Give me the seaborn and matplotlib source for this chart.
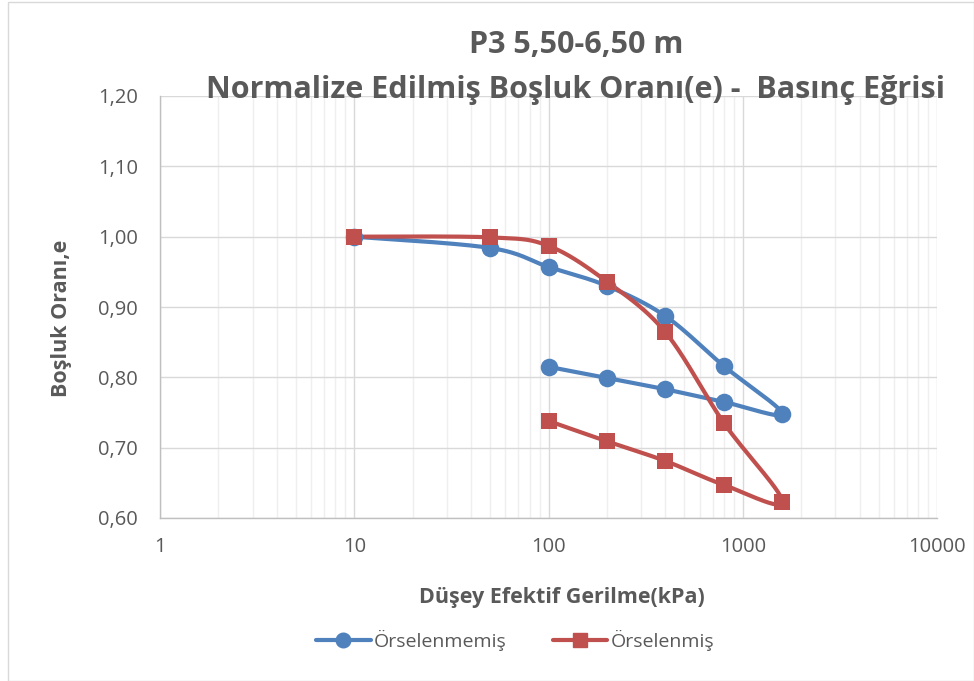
import numpy as np
import pandas as pd
import matplotlib
matplotlib.use("Agg")
import matplotlib.pyplot as plt
import seaborn as sns
from matplotlib.lines import Line2D
from matplotlib.patches import Rectangle
from matplotlib.ticker import FixedLocator, LogLocator, NullFormatter, FuncFormatter

# ---- data ----
stress = [10, 50, 100, 200, 400, 800, 1600, 800, 400, 200, 100]
e_undisturbed = [1.000, 0.984, 0.957, 0.930, 0.887, 0.816, 0.748, 0.765, 0.783, 0.799, 0.815]
e_disturbed = [1.000, 0.999, 0.987, 0.936, 0.864, 0.735, 0.623, 0.647, 0.681, 0.709, 0.738]
series_names = ["Örselenmemiş", "Örselenmiş"]
y_ticks = [0.60, 0.70, 0.80, 0.90, 1.00, 1.10, 1.20]
x_ticks = [1, 10, 100, 1000, 10000]

title_line1 = "P3 5,50-6,50 m"
title_line2 = "Normalize Edilmiş Boşluk Oranı(e) -  Basınç Eğrisi"
xlabel_text = "Düşey Efektif Gerilme(kPa)"
ylabel_text = "Boşluk Oranı,e"

BLUE = "#4F81BD"
RED = "#C0504D"
GREY_TXT = "#595959"

sns.set_theme(style="white")
plt.rcParams["font.family"] = ["Open Sans", "DejaVu Sans"]

fig = plt.figure(figsize=(9.74, 6.81), dpi=100)
ax = fig.add_axes([160/974, 1-518/681, (937-160)/974, (518-96)/681])
ax.set_xscale("log")
ax.set_xlim(1, 10000)
ax.set_ylim(0.60, 1.20)

# grid
ax.xaxis.set_major_locator(FixedLocator(x_ticks))
ax.xaxis.set_minor_locator(LogLocator(base=10, subs=np.arange(2, 10)))
ax.xaxis.set_minor_formatter(NullFormatter())
ax.yaxis.set_major_locator(FixedLocator(y_ticks))
ax.grid(True, which="major", color="#d9d9d9", lw=1.0)
ax.grid(True, which="minor", axis="x", color="#efefef", lw=1.0)
ax.set_axisbelow(True)
for s in ["top", "right"]:
    ax.spines[s].set_visible(False)
for s in ["left", "bottom"]:
    ax.spines[s].set_color("#bfbfbf")
    ax.spines[s].set_linewidth(1.0)
ax.tick_params(axis="both", which="both", length=0, labelsize=14.5, colors=GREY_TXT)
ax.tick_params(axis="y", pad=16)
ax.tick_params(axis="x", pad=14)
ax.xaxis.set_major_formatter(FuncFormatter(lambda v, p: f"{int(v)}"))
ax.yaxis.set_major_formatter(FuncFormatter(lambda v, p: f"{v:.2f}".replace(".", ",")))

fig.canvas.draw()

def smooth(xs, ys, n=30):
    pts = ax.transData.transform(np.column_stack([xs, ys]))
    P = np.vstack([pts[0], pts, pts[-1]])
    out = []
    for i in range(1, len(P) - 2):
        p0, p1, p2, p3 = P[i-1], P[i], P[i+1], P[i+2]
        c1 = p1 + (p2 - p0) / 6.0
        c2 = p2 - (p3 - p1) / 6.0
        t = np.linspace(0, 1, n)[:, None]
        seg = (1-t)**3*p1 + 3*(1-t)**2*t*c1 + 3*(1-t)*t**2*c2 + t**3*p2
        out.append(seg if i == 1 else seg[1:])
    out = np.vstack(out)
    return ax.transData.inverted().transform(out)

for ys, col, mk, ms in [(e_undisturbed, BLUE, "o", 160), (e_disturbed, RED, "s", 135)]:
    curve = smooth(stress, ys)
    cdf = pd.DataFrame({"x": curve[:, 0], "y": curve[:, 1]})
    sns.lineplot(data=cdf, x="x", y="y", sort=False, ax=ax, color=col, lw=3.0, estimator=None)
    sns.scatterplot(x=stress, y=ys, ax=ax, color=col, marker=mk, s=ms, edgecolor=col, lw=0, zorder=5)

ax.set_xlabel("")
ax.set_ylabel("")

fig.text(576/974, 1-45/681, title_line1, ha="center", va="center",
         fontsize=22, fontweight="bold", color=GREY_TXT)
fig.text(576/974, 1-90/681, title_line2, ha="center", va="center",
         fontsize=22, fontweight="bold", color=GREY_TXT)
fig.text(562/974, 1-597/681, xlabel_text, ha="center", va="center",
         fontsize=15.5, fontweight="bold", color=GREY_TXT)
fig.text(62/974, 1-318/681, ylabel_text, ha="center", va="center", rotation=90,
         fontsize=15.5, fontweight="bold", color=GREY_TXT)

handles = [Line2D([], [], color=BLUE, lw=3, marker="o", markersize=10.5),
           Line2D([], [], color=RED, lw=3, marker="s", markersize=9.5)]
fig.legend(handles, series_names, loc="center", bbox_to_anchor=(515/974, 1-640/681), ncol=2,
           frameon=False, fontsize=14, labelcolor=GREY_TXT, handlelength=2.8,
           handletextpad=0.15, columnspacing=2.4)

fig.patches.append(Rectangle((8/974, 0), 1-8/974, 1-2/681, transform=fig.transFigure,
                             fill=False, edgecolor="#d9d9d9", lw=1.0))

fig.savefig("out.png", dpi=100)
